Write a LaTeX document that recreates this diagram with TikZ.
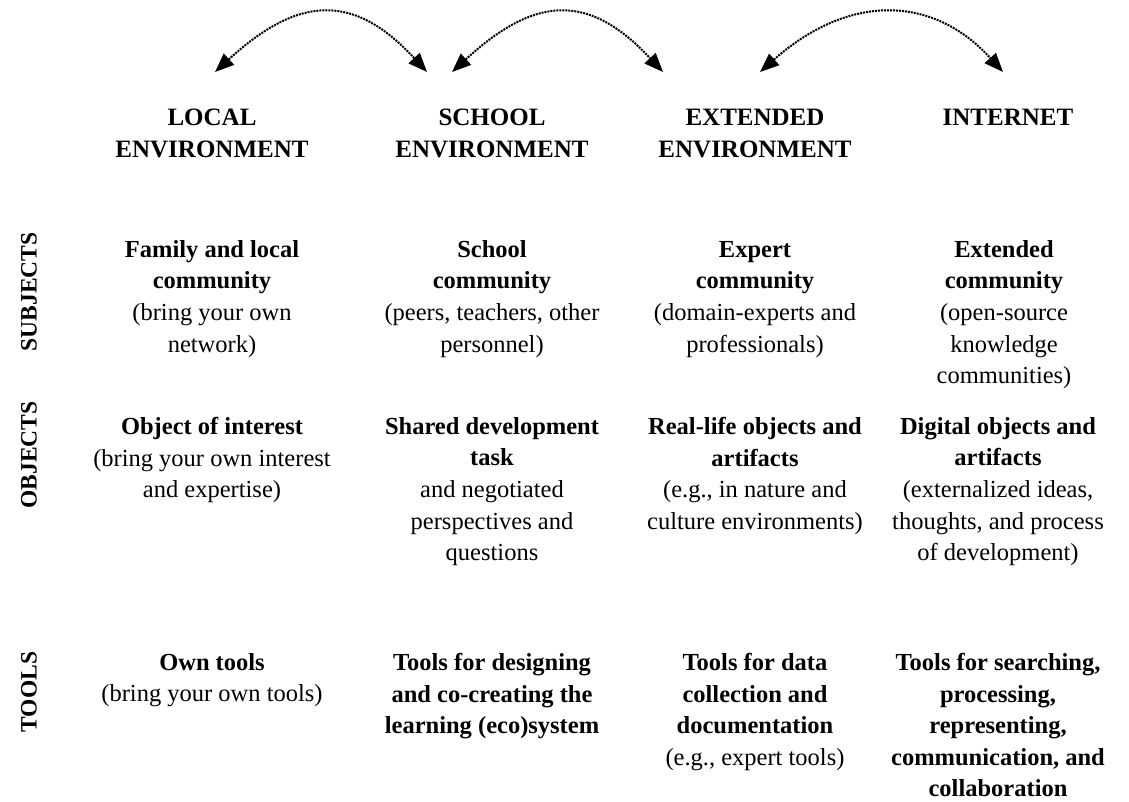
\documentclass[tikz,border=0pt]{standalone}
\usepackage{fontspec}
\setmainfont{Liberation Serif}
\usetikzlibrary{arrows.meta}
\begin{document}
\begin{tikzpicture}[x=1pt,y=-1pt,
  hdr/.style={font=\fontsize{25}{31.7}\selectfont\bfseries, align=center, anchor=north, inner sep=0pt},
  cell/.style={font=\fontsize{24.5}{31.6}\selectfont, align=center, anchor=north, inner sep=0pt},
  rowlab/.style={font=\fontsize{23.5}{28}\selectfont\bfseries, rotate=90, inner sep=0pt},
  link/.style={densely dotted, line width=2pt, {Triangle[length=19pt,width=15pt]}-{Triangle[length=19pt,width=15pt]}}
]
\useasboundingbox (0,0) rectangle (1129,801);

% arrow end points
\coordinate (p1) at (215,72);
\coordinate (p2) at (427,72);
\coordinate (p3) at (452,72);
\coordinate (p4) at (663,72);
\coordinate (p5) at (760,72);
\coordinate (p6) at (1003,72);
\coordinate (c1a) at (300,-6);
\coordinate (c1b) at (355,-6);
\coordinate (c2a) at (537,-6);
\coordinate (c2b) at (590,-6);
\coordinate (c3a) at (848,-6);
\coordinate (c3b) at (932,-6);

\draw[link] (p1) .. controls (c1a) and (c1b) .. (p2);
\draw[link] (p3) .. controls (c2a) and (c2b) .. (p4);
\draw[link] (p5) .. controls (c3a) and (c3b) .. (p6);

% column headers
\node[hdr] (h1) at (212,109) {LOCAL\\ENVIRONMENT};
\node[hdr] (h2) at (492,109) {SCHOOL\\ENVIRONMENT};
\node[hdr] (h3) at (755,109) {EXTENDED\\ENVIRONMENT};
\node[hdr] (h4) at (1008,109) {INTERNET};

% row labels
\node[rowlab] (rs) at (29,292) {SUBJECTS};
\node[rowlab] (ro) at (29,455) {OBJECTS};
\node[rowlab] (rt) at (29,692) {TOOLS};

% subjects
\node[cell] (s1) at (212,240) {\textbf{Family and local}\\\textbf{community}\\(bring your own\\network)};
\node[cell] (s2) at (492,240) {\textbf{School}\\\textbf{community}\\(peers, teachers, other\\personnel)};
\node[cell] (s3) at (755,241) {\textbf{Expert}\\\textbf{community}\\(domain-experts and\\professionals)};
\node[cell] (s4) at (1004,240) {\textbf{Extended}\\\textbf{community}\\(open-source\\knowledge\\communities)};

% objects
\node[cell] (o1) at (212,417) {\textbf{Object of interest}\\(bring your own interest\\and expertise)};
\node[cell] (o2) at (492,417) {\textbf{Shared development}\\\textbf{task}\\and negotiated\\perspectives and\\questions};
\node[cell] (o3) at (755,417) {\textbf{Real-life objects and}\\\textbf{artifacts}\\(e.g., in nature and\\culture environments)};
\node[cell] (o4) at (998,417) {\textbf{Digital objects and}\\\textbf{artifacts}\\(externalized ideas,\\thoughts, and process\\of development)};

% tools
\node[cell] (t1) at (212,653) {\textbf{Own tools}\\(bring your own tools)};
\node[cell] (t2) at (492,653) {\textbf{Tools for designing}\\\textbf{and co-creating the}\\\textbf{learning (eco)system}};
\node[cell] (t3) at (755,653) {\textbf{Tools for data}\\\textbf{collection and}\\\textbf{documentation}\\(e.g., expert tools)};
\node[cell] (t4) at (998,653) {\textbf{Tools for searching,}\\\textbf{processing,}\\\textbf{representing,}\\\textbf{communication, and}\\\textbf{collaboration}};
\end{tikzpicture}
\end{document}
